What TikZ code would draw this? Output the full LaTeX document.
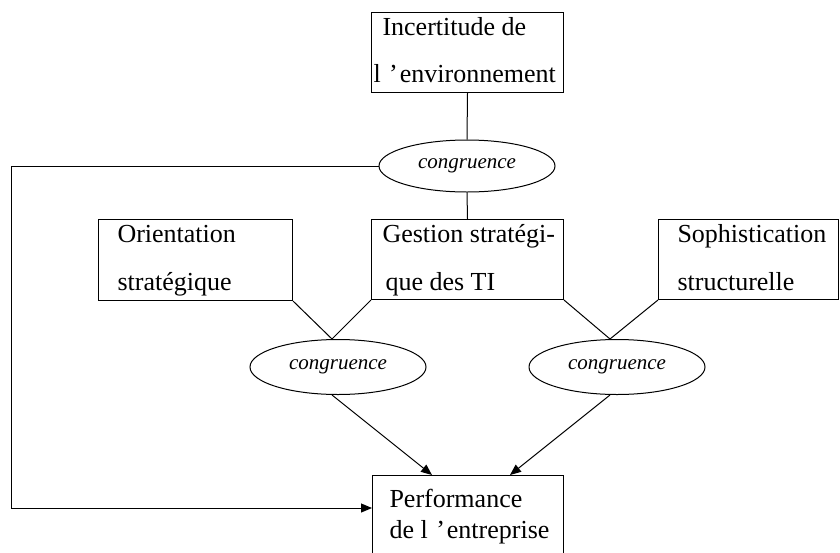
\documentclass[tikz,border=0pt]{standalone}
\usepackage{fontspec}
\setmainfont{Liberation Serif}
\usetikzlibrary{shapes.geometric,arrows.meta}
\begin{document}
\begin{tikzpicture}[x=1pt,y=-1pt,line width=1pt,
  boxnode/.style={draw,rectangle,inner sep=0pt,anchor=north west},
  txt/.style={anchor=base west,inner sep=0pt,font=\fontsize{26}{30}\selectfont},
  congr/.style={draw,ellipse,inner sep=0pt,minimum width=176pt,minimum height=55pt,font=\fontsize{21}{24}\selectfont\itshape},
  arr/.style={-{Triangle[length=11pt,width=9pt]}}]
\useasboundingbox (0,0) rectangle (840,552);
% boxes
\node[boxnode,minimum width=192pt,minimum height=80pt] (top) at (371,12) {};
\node[boxnode,minimum width=194pt,minimum height=81pt] (orient) at (98,219) {};
\node[boxnode,minimum width=192pt,minimum height=80pt] (gest) at (371,219) {};
\node[boxnode,minimum width=180pt,minimum height=80pt] (soph) at (658,219) {};
\node[boxnode,minimum width=191pt,minimum height=90pt] (perf) at (372,475) {};
% texts
\node[txt] (t1a) at (382,35) {Incertitude de};
\node[txt] (t1b) at (373,82) {l \kern2pt’\kern2pt environnement};
\node[txt] (t2a) at (117,242) {Orientation};
\node[txt] (t2b) at (117,290) {stratégique};
\node[txt] (t3a) at (382,242) {Gestion stratégi-};
\node[txt] (t3b) at (385,290) {que des TI};
\node[txt] (t4a) at (677,242) {Sophistication};
\node[txt] (t4b) at (677,290) {structurelle};
\node[txt] (t5a) at (389,507) {Performance};
\node[txt] (t5b) at (389,538) {de l \kern2pt’\kern2pt entreprise};
% ellipses
\node[congr,minimum height=52pt] (c1) at (467,166) {congruence};
\node[congr] (c2) at (338,367) {congruence};
\node[congr] (c3) at (617,367) {congruence};
% coordinates
\coordinate (k1) at (11,166);
\coordinate (k2) at (11,508);
\coordinate (a2) at (332,339);
\coordinate (a3) at (610,339);
\coordinate (p1) at (432,475);
\coordinate (p2) at (510,475);
\coordinate (s2) at (332,395);
\coordinate (s3) at (610,395);
% connectors
\draw (top.south) -- (c1.north);
\draw (c1.south) -- (gest.north);
\draw[arr] (c1.west) -- (k1) -- (k2) -- (k2 -| perf.west);
\draw (orient.south east) -- (a2) -- (gest.south west);
\draw (gest.south east) -- (a3) -- (soph.south west);
\draw[arr] (s2) -- (p1);
\draw[arr] (s3) -- (p2);
\end{tikzpicture}
\end{document}
